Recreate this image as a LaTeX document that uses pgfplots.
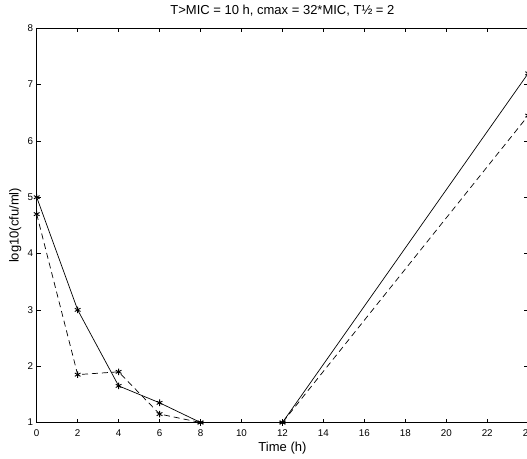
\documentclass[border=0pt]{standalone}
\usepackage{pgfplots}
\pgfplotsset{compat=1.18}
\usepackage{fontspec}
\setmainfont{Liberation Sans}
\begin{document}
\begin{tikzpicture}
\begin{axis}[
  scale only axis,
  width=491.5pt, height=394.2pt,
  xmin=0, xmax=24, ymin=1, ymax=8,
  xtick={0,2,...,24}, ytick={1,2,...,8},
  tick align=inside,
  major tick length=4pt,
  axis line style={line width=0.9pt, black},
  tick style={line width=0.6pt, black},
  /pgf/number format/assume math mode=true,
  ticklabel style={font=\fontsize{9.8}{12}\selectfont},
  xticklabel style={anchor=base, yshift=-14pt},
  xlabel={Time (h)},
  ylabel={log10(cfu/ml)},
  xlabel style={font=\fontsize{13}{15}\selectfont, at={(axis description cs:0.5,0)}, anchor=base, yshift=-28.5pt},
  ylabel style={font=\fontsize{13}{15}\selectfont, at={(axis description cs:0,0.5)}, anchor=center, yshift=21.5pt},
  title={T>MIC = 10 h, cmax = 32*MIC, T½ = 2},
  title style={font=\fontsize{13}{15}\selectfont, at={(axis description cs:0.5,1)}, anchor=base, yshift=7.5pt},
  clip=false,
]
\addplot[black, line width=0.7pt, mark=asterisk, mark size=3.3pt, mark options={solid, line width=0.9pt}]
  coordinates {(0,5) (2,3) (4,1.65) (6,1.35) (8,1) (12,1) (24,7.2)};
\addplot[black, line width=0.7pt, dash pattern=on 6pt off 4pt, mark=asterisk, mark size=3.3pt, mark options={solid, line width=0.9pt}]
  coordinates {(0,4.7) (2,1.85) (4,1.9) (6,1.15) (8,1) (12,1) (24,6.45)};
\end{axis}
\pgfresetboundingbox
\path ([xshift=-36.7pt,yshift=-35.5pt]current axis.south west) rectangle ([xshift=-1.2pt,yshift=28.3pt]current axis.north east);
\end{tikzpicture}
\end{document}
